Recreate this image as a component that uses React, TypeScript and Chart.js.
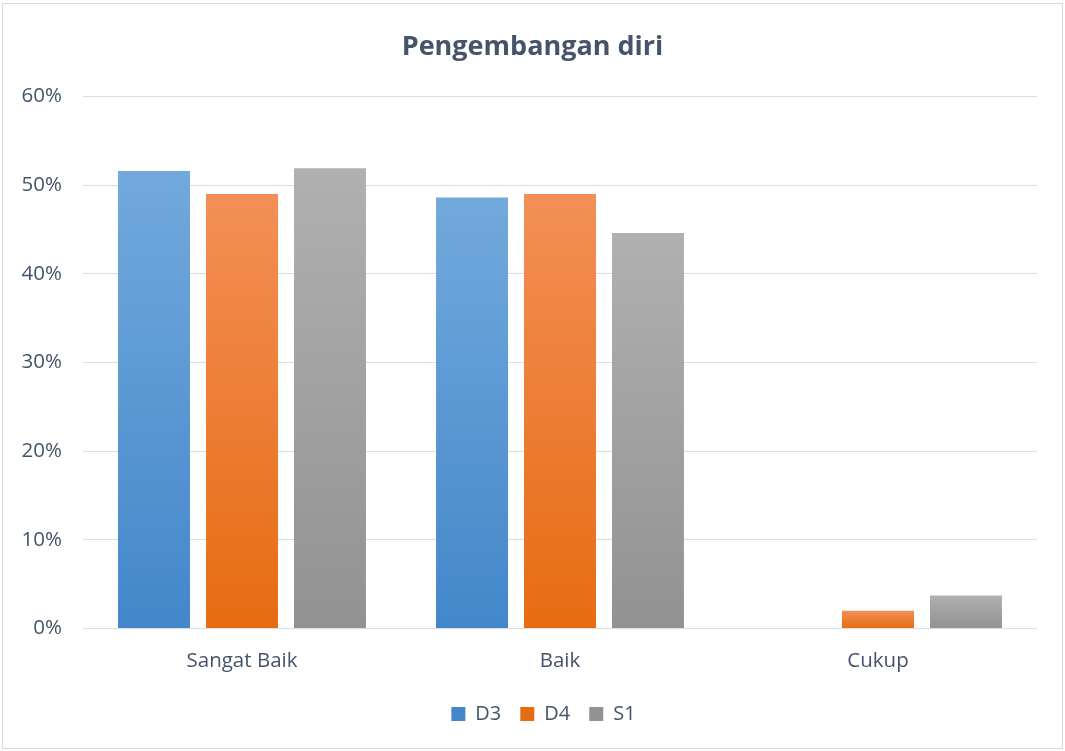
import { useEffect, useRef } from "react";
import { Chart, registerables } from "chart.js";
Chart.register(...registerables);

const categories = ["Sangat Baik", "Baik", "Cukup"];
const seriesNames = ["D3", "D4", "S1"];
const d3Values = [51.6, 48.6, 0];
const d4Values = [49.0, 49.0, 2.0];
const s1Values = [51.9, 44.6, 3.7];
const yMax = 60;
const yStep = 10;

const FONT = "'Open Sans', 'DejaVu Sans', sans-serif";
const TEXT = "#44546A";

function grad(top: string, bottom: string, mid: string) {
  return (ctx: any) => {
    if (ctx.type !== "data") return mid;
    const chart = ctx.chart;
    const y = chart.scales && chart.scales.y;
    if (!y) return mid;
    const v = ctx.raw as number;
    const yTop = y.getPixelForValue(v);
    const yBase = y.getPixelForValue(0);
    if (!isFinite(yTop) || !isFinite(yBase) || Math.abs(yBase - yTop) < 0.5) return mid;
    const g = chart.ctx.createLinearGradient(0, yTop, 0, yBase);
    g.addColorStop(0, top);
    g.addColorStop(1, bottom);
    return g;
  };
}

const framePlugin = {
  id: "frame",
  beforeDraw(chart: any) {
    const c = chart.ctx;
    c.save();
    c.fillStyle = "#ffffff";
    c.fillRect(0, 0, chart.width, chart.height);
    c.strokeStyle = "#D9D9D9";
    c.lineWidth = 1;
    c.strokeRect(2.5, 3.5, chart.width - 5, chart.height - 6);
    c.restore();
  },
  afterLayout(chart: any) {
    const l = chart.legend;
    if (l) {
      l.left += 11;
      l.right += 11;
    }
  },
};

export default function App() {
  const ref = useRef<HTMLCanvasElement | null>(null);
  useEffect(() => {
    document.body.style.margin = "0";
    if (!ref.current) return;
    const chart = new Chart(ref.current, {
      type: "bar",
      data: {
        labels: categories,
        datasets: [
          { label: seriesNames[0], data: d3Values, backgroundColor: grad("#72A9DD", "#4387CA", "#5B9BD5") as any },
          { label: seriesNames[1], data: d4Values, backgroundColor: grad("#F38F56", "#E66C12", "#ED7D31") as any },
          { label: seriesNames[2], data: s1Values, backgroundColor: grad("#B0B0B0", "#929292", "#A5A5A5") as any },
        ],
      },
      options: {
        responsive: false,
        animation: false,
        devicePixelRatio: 1,
        layout: { padding: { left: 14, right: 14, top: 0, bottom: 17 } },
        datasets: { bar: { categoryPercentage: 0.83, barPercentage: 0.818 } },
        scales: {
          x: {
            grid: { display: false },
            border: { display: false },
            ticks: { color: TEXT, font: { family: FONT, size: 20.5 }, padding: 12 },
          },
          y: {
            min: 0,
            max: yMax,
            grid: { color: "#D9DDE4", lineWidth: 1, drawTicks: false },
            border: { display: false },
            ticks: {
              stepSize: yStep,
              color: TEXT,
              font: { family: FONT, size: 20.5 },
              padding: 21,
              callback: (v: any) => v + "%",
            },
            afterFit: (s: any) => {
              s.width = 69;
            },
          },
          yRight: {
            position: "right",
            display: true,
            grid: { display: false, drawTicks: false },
            border: { display: false },
            ticks: { display: false },
            afterFit: (s: any) => {
              s.width = 14;
            },
          },
        },
        plugins: {
          title: {
            display: true,
            text: "Pengembangan diri",
            color: TEXT,
            font: { family: FONT, size: 27, weight: "bold" },
            padding: { top: 31, bottom: 33 },
          },
          legend: {
            position: "bottom",
            labels: {
              color: TEXT,
              font: { family: FONT, size: 20 },
              boxWidth: 14,
              boxHeight: 14,
              padding: 19,
            },
          },
          tooltip: { enabled: false },
        },
      },
      plugins: [framePlugin],
    });
    return () => chart.destroy();
  }, []);
  return (
    <canvas ref={ref} width={1065} height={751} style={{ display: "block", width: 1065, height: 751 }} />
  );
}
